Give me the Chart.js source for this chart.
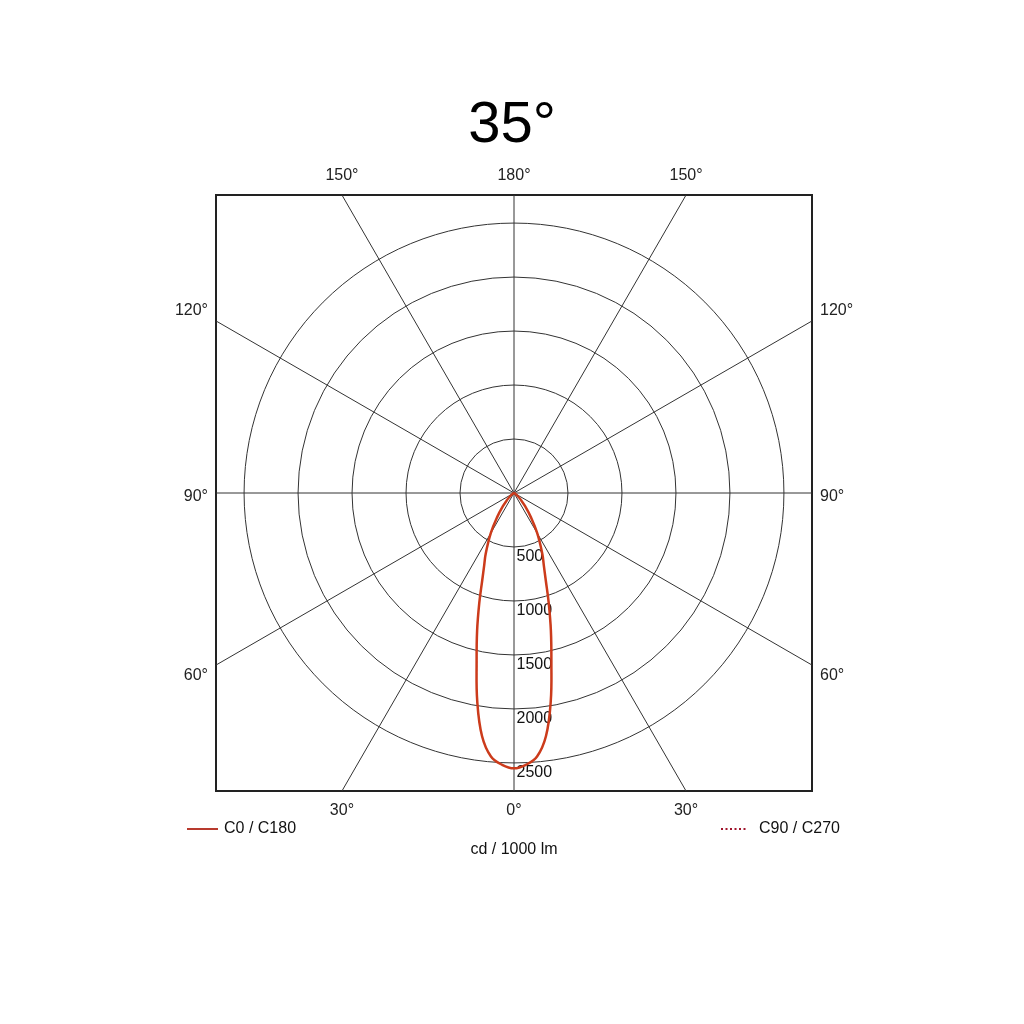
<!DOCTYPE html>
<html>
<head>
<meta charset="utf-8">
<title>35°</title>
<script src="https://cdn.jsdelivr.net/npm/chart.js@4/dist/chart.umd.min.js"></script>
<style>
  html, body { margin: 0; padding: 0; background: #fff; }
  #wrap { width: 1024px; height: 1024px; }
</style>
</head>
<body>
<div id="wrap"><canvas id="polar" width="1024" height="1024"></canvas></div>
<script>
// luminous intensity (cd / 1000 lm) against angle from the downward axis
const gammaDeg = [0, 2.5, 5, 7.5, 10, 12.5, 15, 17.5, 20, 22.5, 25, 30, 35, 40, 45, 50, 60, 70, 80, 90];
const c0c180  = [2550, 2520, 2450, 2270, 1960, 1600, 1320, 1070, 860, 720, 620, 430, 270, 160, 90, 50, 15, 5, 0, 0];
const c90c270 = [2550, 2520, 2450, 2270, 1960, 1600, 1320, 1070, 860, 720, 620, 430, 270, 160, 90, 50, 15, 5, 0, 0];

const ringValues = [500, 1000, 1500, 2000, 2500];
const spokeAngles = [0, 30, 60, 90, 120, 150];
const bottomLabels = ['30°', '0°', '30°'];
const topLabels = ['150°', '180°', '150°'];
const sideLabels = ['120°', '90°', '60°'];

const R = 2760;               // half width of the square frame, in cd
const FONT = "'Liberation Sans', Arial, sans-serif";
Chart.defaults.font.family = FONT;
Chart.defaults.font.size = 16;
Chart.defaults.color = '#222';

// polar -> cartesian, 0° pointing down, both halves of the plane
function toPoints(values) {
  const pts = [];
  for (let i = gammaDeg.length - 1; i > 0; i--) {
    const g = gammaDeg[i] * Math.PI / 180;
    pts.push({x: -values[i] * Math.sin(g), y: -values[i] * Math.cos(g)});
  }
  for (let i = 0; i < gammaDeg.length; i++) {
    const g = gammaDeg[i] * Math.PI / 180;
    pts.push({x: values[i] * Math.sin(g), y: -values[i] * Math.cos(g)});
  }
  return pts;
}

const t30 = R * Math.tan(Math.PI / 6);
const pxUnit = 2 * R / 596;

function hAxis(pos, labels, height, pad) {
  return {
    type: 'linear', position: pos, min: -R, max: R,
    grid: { display: false, drawTicks: false },
    border: { display: true, color: '#222', width: 2 },
    ticks: { padding: pad, callback: (v, i) => labels[i] },
    afterBuildTicks: s => { s.ticks = [-t30, 0, t30].map(value => ({value})); },
    afterFit: s => { s.height = height; }
  };
}
function vAxis(pos, width) {
  return {
    type: 'linear', position: pos, min: -R, max: R,
    grid: { display: false, drawTicks: false },
    border: { display: true, color: '#222', width: 2 },
    ticks: { padding: 8, callback: (v, i) => sideLabels[i] },
    afterBuildTicks: s => {
      s.ticks = [t30 + 10 * pxUnit, -4 * pxUnit, -t30 - 10.5 * pxUnit].map(value => ({value}));
    },
    afterFit: s => { s.width = width; }
  };
}

const polarGrid = {
  id: 'polarGrid',
  beforeDatasetsDraw(chart) {
    const {ctx, chartArea: a, scales: {x, y}} = chart;
    const cx = x.getPixelForValue(0), cy = y.getPixelForValue(0);
    ctx.save();
    ctx.beginPath();
    ctx.rect(a.left, a.top, a.right - a.left, a.bottom - a.top);
    ctx.clip();
    ctx.strokeStyle = '#333';
    ctx.lineWidth = 1;
    ringValues.forEach(v => {
      const r = x.getPixelForValue(v) - cx;
      ctx.beginPath();
      ctx.arc(cx, cy, r, 0, Math.PI * 2);
      ctx.stroke();
    });
    spokeAngles.forEach(deg => {
      const g = deg * Math.PI / 180, L = 1500;
      ctx.beginPath();
      ctx.moveTo(cx - L * Math.sin(g), cy - L * Math.cos(g));
      ctx.lineTo(cx + L * Math.sin(g), cy + L * Math.cos(g));
      ctx.stroke();
    });
    ctx.fillStyle = '#111';
    ctx.font = '16px ' + FONT;
    ctx.textAlign = 'left';
    ctx.textBaseline = 'middle';
    ringValues.forEach(v => {
      ctx.fillText(String(v), cx + 2.5, y.getPixelForValue(-v) + 10);
    });
    ctx.restore();
  },
  afterDraw(chart) {
    const ctx = chart.ctx, ds = chart.data.datasets;
    ctx.save();
    ctx.font = '16px ' + FONT;
    ctx.textBaseline = 'middle';
    ctx.textAlign = 'left';
    ctx.fillStyle = '#111';
    ctx.lineWidth = 2;
    ctx.strokeStyle = '#b83a2e';
    ctx.beginPath(); ctx.moveTo(187, 829); ctx.lineTo(218, 829); ctx.stroke();
    ctx.fillText(ds[0].label, 224, 829);
    ctx.strokeStyle = '#a0142c';
    ctx.setLineDash([2, 2.5]);
    ctx.beginPath(); ctx.moveTo(721, 829); ctx.lineTo(748, 829); ctx.stroke();
    ctx.setLineDash([]);
    ctx.fillText(ds[1].label, 759, 829);
    ctx.restore();
  }
};

new Chart(document.getElementById('polar'), {
  type: 'scatter',
  data: {
    datasets: [{
      label: 'C0 / C180',
      data: toPoints(c0c180),
      showLine: true,
      borderColor: '#cc3b1b',
      borderWidth: 2.5,
      pointRadius: 0,
      tension: 0.4
    }, {
      label: 'C90 / C270',
      data: toPoints(c90c270),
      showLine: true,
      borderColor: '#a01830',
      borderWidth: 1,
      borderDash: [2, 2],
      pointRadius: 0,
      tension: 0.4
    }]
  },
  plugins: [polarGrid],
  options: {
    responsive: false,
    animation: false,
    devicePixelRatio: 1,
    layout: { padding: { top: 0, left: 0, right: 0, bottom: 165 } },
    plugins: {
      legend: { display: false },
      tooltip: { enabled: false },
      title: {
        display: true,
        text: '35°',
        color: '#000',
        font: { size: 58, weight: 'normal', lineHeight: 1 },
        padding: { top: 97, bottom: 0 }
      }
    },
    scales: {
      x: Object.assign(hAxis('bottom', bottomLabels, 68, 10), {
        title: { display: true, text: 'cd / 1000 lm', color: '#111', padding: 0, font: { size: 16 } }
      }),
      x2: hAxis('top', topLabels, 40, 10),
      y: vAxis('left', 216),
      y2: vAxis('right', 212)
    }
  }
});
</script>
</body>
</html>
